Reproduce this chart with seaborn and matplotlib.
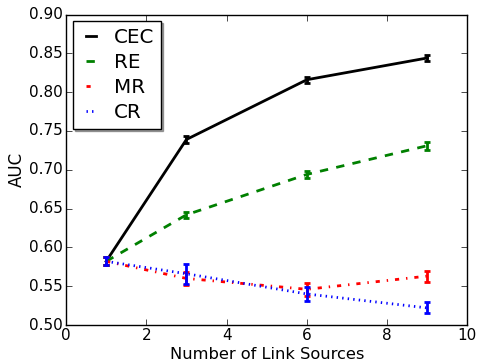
import matplotlib
matplotlib.use("Agg")
import matplotlib.pyplot as plt
import seaborn as sns
import pandas as pd

x = [1, 3, 6, 9]
cec = [0.582, 0.739, 0.816, 0.844]
cec_err = [0.005, 0.005, 0.004, 0.004]
re = [0.582, 0.642, 0.694, 0.731]
re_err = [0.005, 0.004, 0.004, 0.005]
mr = [0.582, 0.560, 0.546, 0.563]
mr_err = [0.005, 0.008, 0.008, 0.007]
cr = [0.582, 0.566, 0.540, 0.522]
cr_err = [0.005, 0.013, 0.009, 0.007]

names = ["CEC", "RE", "MR", "CR"]
vals = [cec, re, mr, cr]
errs = [cec_err, re_err, mr_err, cr_err]
colors = ["black", "green", "red", "blue"]
styles = ["-", "--", "-.", ":"]

plt.style.use("classic")
plt.rcParams["font.family"] = ["DejaVu Sans"]
fig = plt.figure(figsize=(4.79, 3.62), dpi=100)
ax = fig.add_axes([0.1378, 0.1022, 0.838, 0.8577])

rows = []
for n, v in zip(names, vals):
    for xi, yi in zip(x, v):
        rows.append({"x": xi, "y": yi, "method": n})
df = pd.DataFrame(rows)

for n, v, e, c, s in zip(names, vals, errs, colors, styles):
    sub = df[df.method == n]
    sns.lineplot(data=sub, x="x", y="y", ax=ax, color=c, linestyle=s, linewidth=2,
                 label=n, errorbar=None, legend=False)
    ax.errorbar(x, v, yerr=e, fmt="none", ecolor=c, elinewidth=2, capsize=2, capthick=2)

ax.set_xlim(0, 10)
ax.set_ylim(0.5, 0.9)
ax.set_xticks([0, 2, 4, 6, 8, 10])
ax.set_yticks([0.5, 0.55, 0.6, 0.65, 0.7, 0.75, 0.8, 0.85, 0.9])
ax.tick_params(labelsize=11)
ax.tick_params(axis="x", pad=2.5)
ax.tick_params(axis="y", pad=2.2)
ax.set_xlabel("Number of Link Sources", fontsize=11.7, labelpad=2.5)
ax.set_ylabel("AUC", fontsize=12, labelpad=2)
ax.legend(loc="upper left", shadow={"ox": 1.2, "oy": -1.2}, fancybox=False, fontsize=14.3,
          handlelength=1.1, handletextpad=0.6, borderpad=0.35, labelspacing=0.3,
          borderaxespad=0.35)
fig.savefig("out.png", dpi=100)
